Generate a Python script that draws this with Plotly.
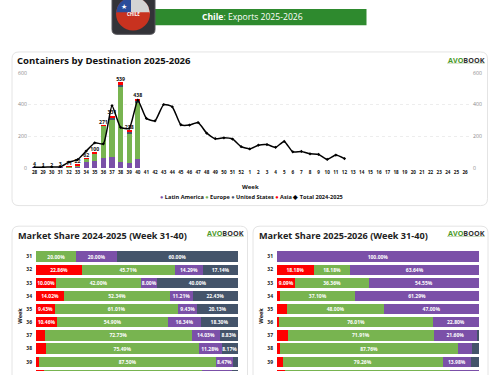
import math
import plotly.graph_objects as go

W, H = 500, 375
FONT = "Open Sans"
RED, GREEN, PURPLE, NAVY = "#FF0000", "#78B450", "#7B50A8", "#44546A"

weeks = [str(w) for w in range(28, 53)] + [str(w) for w in range(1, 27)]
bar_weeks = ["28","29","30","31","32","33","34","35","36","37","38","39","40"]
latin_america = [4, 1, 2, 3, 7, 12, 38, 47, 62, 71, 37, 33, 55]
europe = [0, 0, 0, 0, 2, 8, 23, 48, 206, 238, 473, 189, 360]
united_states = [0, 0, 0, 0, 0, 0, 0, 0, 0, 4, 20, 10, 5]
asia = [0, 0, 0, 0, 2, 2, 1, 5, 3, 18, 9, 6, 18]
totals = [4, 1, 2, 3, 11, 22, 62, 100, 271, 331, 539, 238, 438]
total_prev = [5, 6, 7, 8, 38, 53, 107, 159, 153, 393, 257, 250, 428, 313, 298, 400,
              386, 273, 271, 287, 220, 185, 191, 183, 135, 121, 144, 148, 131, 168,
              103, 105, 90, 86, 55, 82, 60]
total_prev_weeks = weeks[:len(total_prev)]

share_weeks = ["31","32","33","34","35","36","37","38","39","40"]
a_asia = [0, 22.86, 10.00, 14.02, 9.43, 10.46, 4.41, 5.06, 1.60, 3.80]
a_europe = [20.00, 45.71, 42.00, 52.34, 61.01, 54.90, 72.73, 75.49, 87.50, 78.20]
a_latin = [20.00, 14.29, 8.00, 11.21, 9.43, 16.34, 14.03, 11.28, 8.47, 15.00]
a_us = [60.00, 17.14, 40.00, 22.43, 20.13, 18.30, 8.83, 8.17, 2.43, 3.00]
b_asia = [0, 18.18, 9.09, 1.61, 5.00, 1.17, 5.60, 1.70, 2.80, 4.10]
b_europe = [0, 18.18, 36.36, 37.10, 48.00, 76.01, 71.91, 87.76, 79.26, 81.50]
b_latin = [100.00, 63.64, 54.55, 61.29, 47.00, 22.80, 21.60, 6.90, 13.98, 14.40]
b_us = [0, 0, 0, 0, 0, 0, 0.89, 3.64, 3.96, 0]


def px(x):
    return x / W


def py(y):
    return 1 - y / H


def card(x0, y0, x1, y1, r=7, fill="white", border="#E4E4E4"):
    X0, X1, Y0, Y1 = px(x0), px(x1), py(y0), py(y1)
    rx, ry = r / W, r / H
    path = (f"M {X0+rx} {Y0} L {X1-rx} {Y0} Q {X1} {Y0} {X1} {Y0-ry} L {X1} {Y1+ry} "
            f"Q {X1} {Y1} {X1-rx} {Y1} L {X0+rx} {Y1} Q {X0} {Y1} {X0} {Y1+ry} "
            f"L {X0} {Y0-ry} Q {X0} {Y0} {X0+rx} {Y0} Z")
    return dict(type="path", xref="paper", yref="paper", path=path,
                line=dict(color=border, width=1), fillcolor=fill, layer="below")


def rect(x0, y0, x1, y1, color, layer="below"):
    return dict(type="rect", xref="paper", yref="paper", x0=px(x0), x1=px(x1), y0=py(y0), y1=py(y1),
                fillcolor=color, line=dict(width=0), layer=layer)


def disc_slice(cx, cy, r, x0, x1, y_cut, color):
    """Part of a disc between two verticals and above a horizontal cut (decoration of the flag badge)."""
    steps = 12
    pts = []
    for i in range(steps + 1):
        x = x0 + (x1 - x0) * i / steps
        pts.append((x, cy - math.sqrt(max(r * r - (x - cx) ** 2, 0))))
    def edge_y(x):
        return min(y_cut, cy + math.sqrt(max(r * r - (x - cx) ** 2, 0)))
    pts.append((x1, edge_y(x1)))
    pts.append((x0, edge_y(x0)))
    path = "M " + " L ".join(f"{px(a)} {py(b)}" for a, b in pts) + " Z"
    return dict(type="path", xref="paper", yref="paper", path=path, fillcolor=color,
                line=dict(width=0), layer="below")


def note(x, y, text, size, color="#111111", xanchor="center", angle=0):
    return dict(xref="paper", yref="paper", x=px(x), y=py(y), text=text, showarrow=False,
                xanchor=xanchor, yanchor="middle", textangle=angle, align="center",
                font=dict(family=FONT, size=size, color=color), borderpad=0)


fig = go.Figure()

# Main chart
for name, vals, col in [("Latin America", latin_america, PURPLE), ("Europe", europe, GREEN),
                        ("United States", united_states, NAVY), ("Asia", asia, RED)]:
    fig.add_trace(go.Bar(x=bar_weeks, y=vals, name=name, marker=dict(color=col, line=dict(width=0)),
                         width=0.6, xaxis="x", yaxis="y", showlegend=False))
fig.add_trace(go.Scatter(x=bar_weeks, y=totals, mode="text", text=[str(t) for t in totals],
                         textposition="top center", xaxis="x", yaxis="y", showlegend=False,
                         textfont=dict(family=FONT, size=5.2, color="#111111", weight="bold")))
fig.add_trace(go.Scatter(x=total_prev_weeks, y=total_prev, mode="lines+markers", name="Total 2024-2025",
                         line=dict(color="#000000", width=1.5, shape="spline", smoothing=0.5),
                         marker=dict(symbol="diamond", size=2.5, color="#000000"),
                         xaxis="x", yaxis="y2", showlegend=False))


def share_chart(xa, ya, asia_v, europe_v, latin_v, us_v):
    for name, vals, col in [("Asia", asia_v, RED), ("Europe", europe_v, GREEN),
                            ("Latin America", latin_v, PURPLE), ("United States", us_v, NAVY)]:
        labels = [f"{v:.2f}%" if v >= 8 and wk != "40" else "" for v, wk in zip(vals, share_weeks)]
        fig.add_trace(go.Bar(
            y=share_weeks, x=vals, name=name, orientation="h", xaxis=xa, yaxis=ya, width=0.78,
            marker=dict(color=col, line=dict(width=0)), showlegend=False,
            text=labels, textposition="inside",
            insidetextanchor="middle", textangle=0, constraintext="none",
            textfont=dict(family=FONT, size=5, color="white", weight="bold")))


share_chart("x2", "y3", a_asia, a_europe, a_latin, a_us)
share_chart("x3", "y4", b_asia, b_europe, b_latin, b_us)

x_main_left, x_main_right = 28, 472
spacing = 8.61
y_common = dict(range=[0, 600], tickvals=[0, 200, 400, 600],
                tickfont=dict(family=FONT, size=5.2, color="#8A8A8A"),
                showline=False, ticks="", zeroline=False)
share_y = dict(type="category", categoryorder="array", categoryarray=share_weeks,
               range=[8.70, -0.5], showgrid=False, zeroline=False, showline=False, ticks="",
               tickfont=dict(family=FONT, size=5, color="#222222", weight="bold"), ticklen=0,
               ticklabelstandoff=3)
share_x = dict(range=[0, 100], visible=False, fixedrange=True)

shapes = [
    card(12, 49, 487.5, 206),
    card(12, 227, 247.5, 400),
    card(253, 227, 488, 400),
    # header banner and flag badge
    rect(153, 5, 366.5, 21.7, "#2E8A2E"),
    card(112, -12, 155, 31, r=5, fill="#333338", border="#55555A"),
    dict(type="circle", xref="paper", yref="paper", x0=px(116), x1=px(150), y0=py(-7), y1=py(27),
         fillcolor="#C8321F", line=dict(width=0), layer="below"),
    disc_slice(133, 10, 17, 116, 131, 8.5, "#2A4C9A"),
    disc_slice(133, 10, 17, 131, 150, 8.5, "#D4D4D4"),
    # logos' tag lines
    rect(447, 60, 485, 60.8, "#B8CDA8"),
    rect(207, 237.4, 244, 238.2, "#B8CDA8"),
    rect(447, 237.4, 485, 238.2, "#B8CDA8"),
]


def logo(x, y):
    return note(x, y, "<b><span style='color:#4C9A2A'>AVO</span><span style='color:#333333'>BOOK</span></b>", 7.2)


legend_html = (f"<b><span style='color:{PURPLE}'>●</span> Latin America "
               f"<span style='color:{GREEN}'>●</span> Europe "
               f"<span style='color:{NAVY}'>●</span> United States "
               f"<span style='color:{RED}'>●</span> Asia "
               f"<span style='color:#000000'>◆</span> Total 2024-2025</b>")

annotations = [
    note(252.5, 13.5, "<b>Chile</b>: Exports 2025-2026", 8.6, "white"),
    note(133, 10, "<b>CHILE</b>", 4.5, "white"),
    note(124, 2.5, "★", 7, "white"),
    note(16, 58, "<b>Containers by Destination 2025-2026</b>", 9.55, "#111111", xanchor="left"),
    logo(466, 56.8),
    note(250, 187, "<b>Week</b>", 6),
    note(251, 197.3, legend_html, 5.6),
    note(17, 236.5, "<b>Market Share 2024-2025 (Week 31-40)</b>", 9.15, "#222222", xanchor="left"),
    logo(225.5, 234.5),
    note(20, 318.5, "<b>Week</b>", 5.6, angle=-90),
    note(257.5, 236.5, "<b>Market Share 2025-2026 (Week 31-40)</b>", 9.15, "#222222", xanchor="left"),
    logo(466, 234.5),
    note(261, 318.5, "<b>Week</b>", 5.6, angle=-90),
]

fig.update_layout(
    width=W, height=H, margin=dict(l=0, r=0, t=0, b=0), autosize=False,
    paper_bgcolor="white", plot_bgcolor="rgba(0,0,0,0)", barmode="stack", bargap=0.2,
    showlegend=False, shapes=shapes, annotations=annotations,
    font=dict(family=FONT),
    xaxis=dict(domain=[px(x_main_left), px(x_main_right)], type="category", categoryorder="array",
               categoryarray=weeks, tickmode="array", tickvals=weeks, ticktext=weeks,
               range=[(x_main_left - 34.5) / spacing, (x_main_right - 34.5) / spacing],
               showgrid=False, zeroline=False, showline=False, ticks="", tickangle=0,
               anchor="y", tickfont=dict(family=FONT, size=4.6, color="#111111", weight="bold")),
    yaxis=dict(domain=[py(167.7), py(70.3)], anchor="x", side="left", showgrid=True,
               gridcolor="#EDEDED", griddash="dot", gridwidth=0.8, **y_common),
    yaxis2=dict(overlaying="y", anchor="x", side="right", showgrid=False, **y_common),
    xaxis2=dict(domain=[px(36), px(238)], anchor="y3", **share_x),
    yaxis3=dict(domain=[py(375), py(251.3)], anchor="x2", **share_y),
    xaxis3=dict(domain=[px(277), px(479)], anchor="y4", **share_x),
    yaxis4=dict(domain=[py(375), py(251.3)], anchor="x3", **share_y),
)

fig.write_html("out.html", config={"displayModeBar": False},
               post_script="document.body.style.margin='0';document.body.style.overflow='hidden';")
